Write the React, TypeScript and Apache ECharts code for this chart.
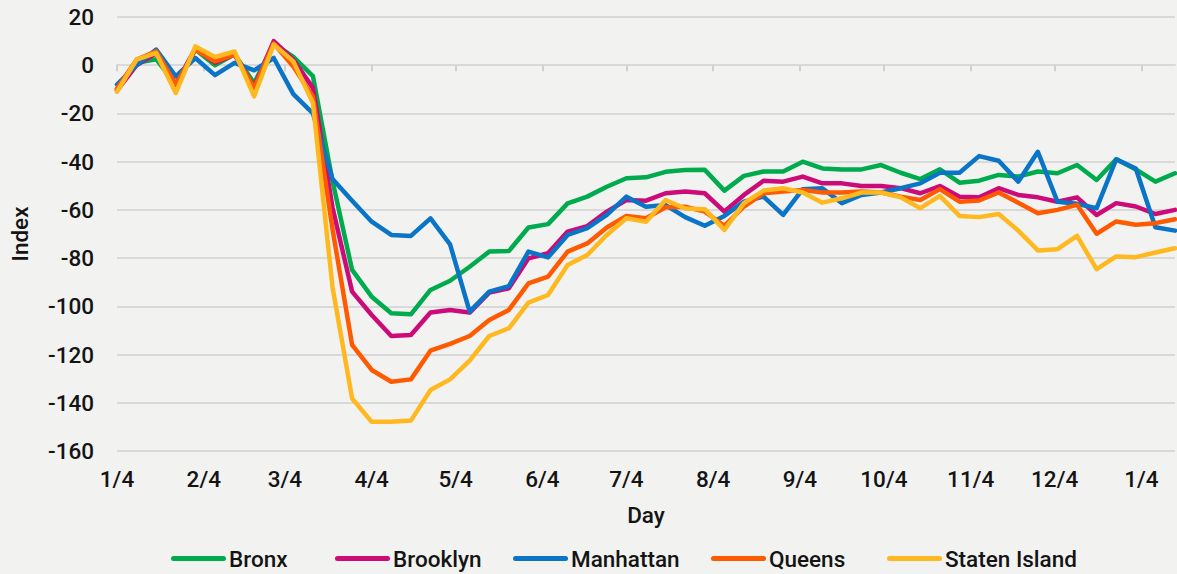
import React, { useEffect, useRef } from "react";
import * as echarts from "echarts";

const START_YEAR = 2020;
const START_MONTH = 0; // January
const START_DAY = 4;
const DAY_COUNT = 379; // 1/4/2020 .. 1/16/2021
const WEEK = 7;

const seriesNames = ["Bronx", "Brooklyn", "Manhattan", "Queens", "Staten Island"];
const seriesColors = ["#00AB4E", "#CC0A78", "#0A74C6", "#FF5A00", "#FFB81F"];

const bronx = [
  -10, 1, 2.5, -8, 6.5, 0, 4.5, -7.5, 9, 3.5, -4.5, -48,
  -84.9, -96.0, -102.9, -103.3, -93.2, -89.4, -83.6, -77.3, -77.1, -67.3, -65.9, -57.3, -54.5, -50.4, -46.9, -46.5, -44.2, -43.5,
  -43.4, -52.0, -45.9, -44.1, -44.1, -40.0, -42.8, -43.2, -43.2, -41.4, -44.6, -47.2,
  -43.2, -48.7, -47.9, -45.5, -46.2, -44.1, -44.8, -41.4, -47.6, -39.0, -43.2, -48.3, -44.8,
];
const brooklyn = [
  -10.5, 0, 5, -8, 7, 1, 4.5, -9, 10, 2.3, -9.4, -59,
  -93.9, -103.6, -112.3, -111.9, -102.6, -101.5, -102.6, -94.3, -92.5, -80.1, -78.0, -69.0, -66.7, -60.7, -55.9, -56.2, -53.1, -52.4,
  -53.1, -60.7, -53.8, -47.9, -48.3, -46.2, -49.0, -49.0, -50.1, -50.1, -51.0, -53.1,
  -50.1, -54.5, -54.8, -51.0, -53.8, -54.8, -56.6, -54.8, -62.1, -57.2, -58.6, -61.7, -60.0,
];
const manhattan = [
  -8, 0, 6.5, -4.6, 3, -4.1, 1, -2.1, 3, -12, -20, -47.2,
  -56.2, -64.9, -70.4, -70.8, -63.5, -74.3, -102.2, -93.9, -91.6, -77.3, -79.7, -70.4, -67.6, -62.1, -54.5, -58.7, -58.0, -63.0,
  -66.6, -62.5, -56.6, -54.5, -62.1, -51.4, -51.0, -57.2, -53.8, -52.8, -51.0, -49.0,
  -44.6, -44.6, -37.7, -39.6, -48.3, -35.9, -56.6, -57.5, -59.3, -39.0, -42.8, -67.2, -68.6,
];
const queens = [
  -9.7, 2.3, 5.8, -8, 6.5, 1.6, 4.4, -9.4, 9, -0.5, -13, -68,
  -116.0, -126.4, -131.3, -130.3, -118.4, -115.6, -112.3, -105.7, -101.5, -90.5, -87.7, -77.3, -73.9, -67.3, -62.5, -63.5, -58.9, -58.7,
  -60.7, -66.6, -58.6, -53.1, -52.4, -51.7, -52.8, -52.8, -52.4, -52.8, -54.5, -55.9,
  -51.4, -56.6, -56.1, -52.8, -57.0, -61.4, -60.0, -57.9, -69.9, -64.8, -66.2, -65.5, -63.9,
];
const statenIsland = [
  -11, 2.3, 5.1, -11.5, 7.8, 3.4, 5.7, -12.9, 8.6, 1.6, -15.7, -92,
  -138.2, -147.9, -147.9, -147.4, -134.7, -130.3, -122.5, -112.3, -109.1, -98.5, -95.3, -82.9, -78.7, -70.4, -63.5, -64.9, -55.9, -59.4,
  -59.7, -68.3, -57.2, -52.0, -51.0, -52.8, -57.0, -55.2, -52.8, -52.8, -54.8, -59.3,
  -54.2, -62.5, -63.0, -61.7, -68.6, -76.8, -76.3, -70.8, -84.6, -79.3, -79.6, -77.7, -75.9,
];
const seriesValues = [bronx, brooklyn, manhattan, queens, statenIsland];

const yMin = -160;
const yMax = 20;
const yStep = 20;

// legend item left positions (px)
const legendLefts = [171, 335, 513, 711, 887];

function pad(n: number) {
  return n < 10 ? "0" + n : "" + n;
}
const days: string[] = [];
for (let d = 0; d < DAY_COUNT; d++) {
  const dt = new Date(Date.UTC(START_YEAR, START_MONTH, START_DAY + d));
  days.push(`${dt.getUTCFullYear()}-${pad(dt.getUTCMonth() + 1)}-${pad(dt.getUTCDate())}`);
}
const isLabelDay = (_i: number, v: string) => v.slice(8) === "04";
const fmtDay = (v: string) => `${parseInt(v.slice(5, 7), 10)}/${parseInt(v.slice(8), 10)}`;

const FONT = "Roboto, 'Noto Sans', sans-serif";
const TEXT = "#141414";
const FS = 22.5;

export default function App() {
  const ref = useRef<HTMLDivElement>(null);
  useEffect(() => {
    if (!ref.current) return;
    const chart = echarts.init(ref.current, undefined, { renderer: "svg" });
    const legendIcon = "path://M2.5,0 H52.5 A2.5,2.5 0 0 1 52.5,5 H2.5 A2.5,2.5 0 0 1 2.5,0 Z";
    chart.setOption({
      animation: false,
      backgroundColor: "#f2f2f0",
      textStyle: { fontFamily: FONT },
      grid: { left: 107, right: 2, top: 17, bottom: 123, containLabel: false },
      legend: seriesNames.map((n, i) => ({
        data: [n],
        left: legendLefts[i],
        top: 547,
        padding: 0,
        itemWidth: 55,
        itemHeight: 5,
        itemGap: 0,
        icon: legendIcon,
        textStyle: { fontSize: FS, fontWeight: 500, color: TEXT, fontFamily: FONT, padding: [0, 0, 0, -2] },
      })),
      xAxis: [
        {
          type: "category",
          data: days,
          boundaryGap: false,
          position: "bottom",
          axisLine: { show: false, onZero: false },
          axisTick: { show: false },
          splitLine: { show: false },
          axisLabel: {
            interval: isLabelDay,
            formatter: fmtDay,
            fontSize: FS,
            fontWeight: 500,
            color: TEXT,
            margin: 16,
            fontFamily: FONT,
          },
          name: "Day",
          nameLocation: "middle",
          nameGap: 52,
          nameTextStyle: { fontSize: FS, fontWeight: 500, color: TEXT, fontFamily: FONT },
        },
        {
          type: "category",
          data: days,
          boundaryGap: false,
          position: "bottom",
          axisLine: { show: true, onZero: true, lineStyle: { color: "#d9d9d9", width: 2 } },
          axisTick: { show: true, interval: isLabelDay, length: 6, lineStyle: { color: "#d0d0d0", width: 2 } },
          axisLabel: { show: false },
          splitLine: { show: false },
        },
      ],
      yAxis: {
        type: "value",
        min: yMin,
        max: yMax,
        interval: yStep,
        axisLine: { show: false },
        axisTick: { show: false },
        splitLine: { show: true, lineStyle: { color: "#d9d9d9", width: 2 } },
        axisLabel: { fontSize: FS, fontWeight: 500, color: TEXT, margin: 23, fontFamily: FONT },
        name: "Index",
        nameLocation: "middle",
        nameGap: 86,
        nameRotate: 90,
        nameTextStyle: { fontSize: FS, fontWeight: 500, color: TEXT, fontFamily: FONT },
      },
      series: seriesNames.map((n, si) => ({
        name: n,
        type: "line",
        xAxisIndex: 0,
        symbol: "none",
        showSymbol: false,
        connectNulls: true,
        color: seriesColors[si],
        lineStyle: { width: 4.5, color: seriesColors[si], join: "round", cap: "round" },
        data: seriesValues[si].map((v, i) => [days[i * WEEK], v]),
      })),
    });
    return () => chart.dispose();
  }, []);
  return (
    <div
      ref={ref}
      style={{ position: "fixed", left: 0, top: 0, width: 1177, height: 574 }}
    />
  );
}
